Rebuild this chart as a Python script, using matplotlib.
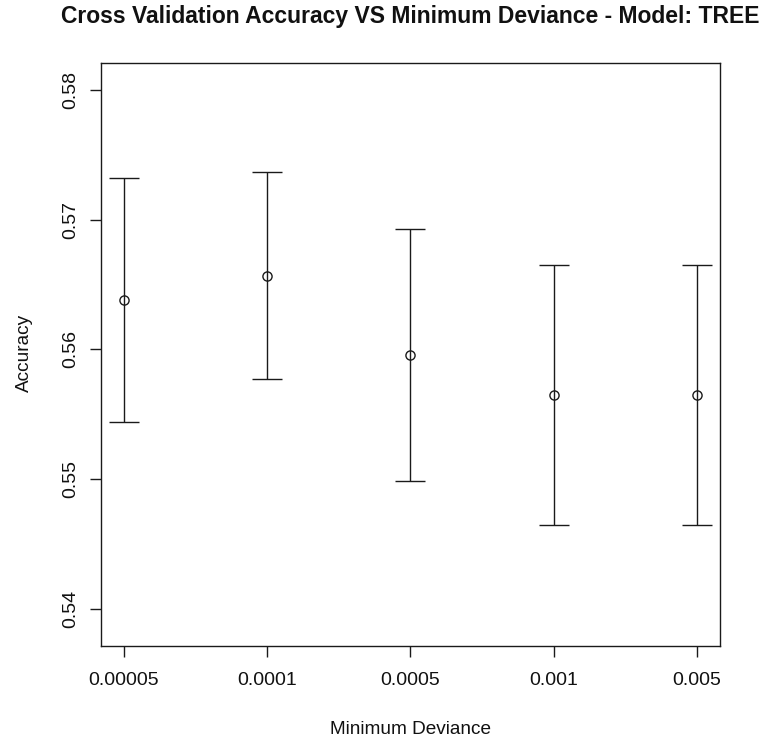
import matplotlib
matplotlib.use("Agg")
import matplotlib.pyplot as plt

# Cross-validated accuracy of a tree model for each minimum-deviance setting
min_dev_labels = ["0.00005", "0.0001", "0.0005", "0.001", "0.005"]
accuracy_mean = [0.5638, 0.5657, 0.5596, 0.5565, 0.5565]
accuracy_upper = [0.5732, 0.5737, 0.5693, 0.5665, 0.5665]
accuracy_lower = [0.5544, 0.5577, 0.5499, 0.5465, 0.5465]
y_ticks = [0.54, 0.55, 0.56, 0.57, 0.58]

plt.rcParams["font.family"] = ["Liberation Sans", "DejaVu Sans"]

W, H, DPI = 767, 737, 100
fig = plt.figure(figsize=(W / DPI, H / DPI), dpi=DPI)

# axes box in pixel coordinates (left, top, right, bottom)
L, T, R, B = 101, 62.7, 720, 646
ax = fig.add_axes([L / W, 1 - B / H, (R - L) / W, (B - T) / H])

x = list(range(1, len(min_dev_labels) + 1))
err_low = [m - lo for m, lo in zip(accuracy_mean, accuracy_lower)]
err_high = [hi - m for m, hi in zip(accuracy_mean, accuracy_upper)]

ax.errorbar(x, accuracy_mean, yerr=[err_low, err_high], fmt="none",
            ecolor="#1a1a1a", elinewidth=1.0, capsize=10.6, capthick=1.0)
ax.plot(x, accuracy_mean, linestyle="none", marker="o", markersize=6.6,
        markerfacecolor="none", markeredgecolor="#1a1a1a", markeredgewidth=1.0)

ax.set_xlim(0.84, 5.16)
ax.set_ylim(0.53715, 0.5821)
ax.set_xticks(x)
ax.set_xticklabels(min_dev_labels)
ax.set_yticks(y_ticks)
ax.set_yticklabels([f"{v:.2f}" for v in y_ticks], rotation=90, va="center")

for side in ax.spines.values():
    side.set_linewidth(1.0)
    side.set_color("#1a1a1a")

ax.tick_params(axis="both", direction="out", length=8, width=1.0,
               color="#1a1a1a", labelsize=14, labelcolor="#111111")
ax.tick_params(axis="x", pad=11)
ax.tick_params(axis="y", pad=8)

cx = (L + R) / 2 / W
fig.text(cx, 1 - 16 / H, "Cross Validation Accuracy VS Minimum Deviance - Model: TREE",
         ha="center", va="center", fontsize=16.5, fontweight="bold", color="#111111")
fig.text(cx, 1 - 729 / H, "Minimum Deviance", ha="center", va="center",
         fontsize=13.7, color="#111111")
fig.text(24 / W, 1 - 353 / H, "Accuracy", ha="center", va="center",
         rotation=90, fontsize=13.7, color="#111111")

fig.savefig("out.png", dpi=DPI, facecolor="white")
